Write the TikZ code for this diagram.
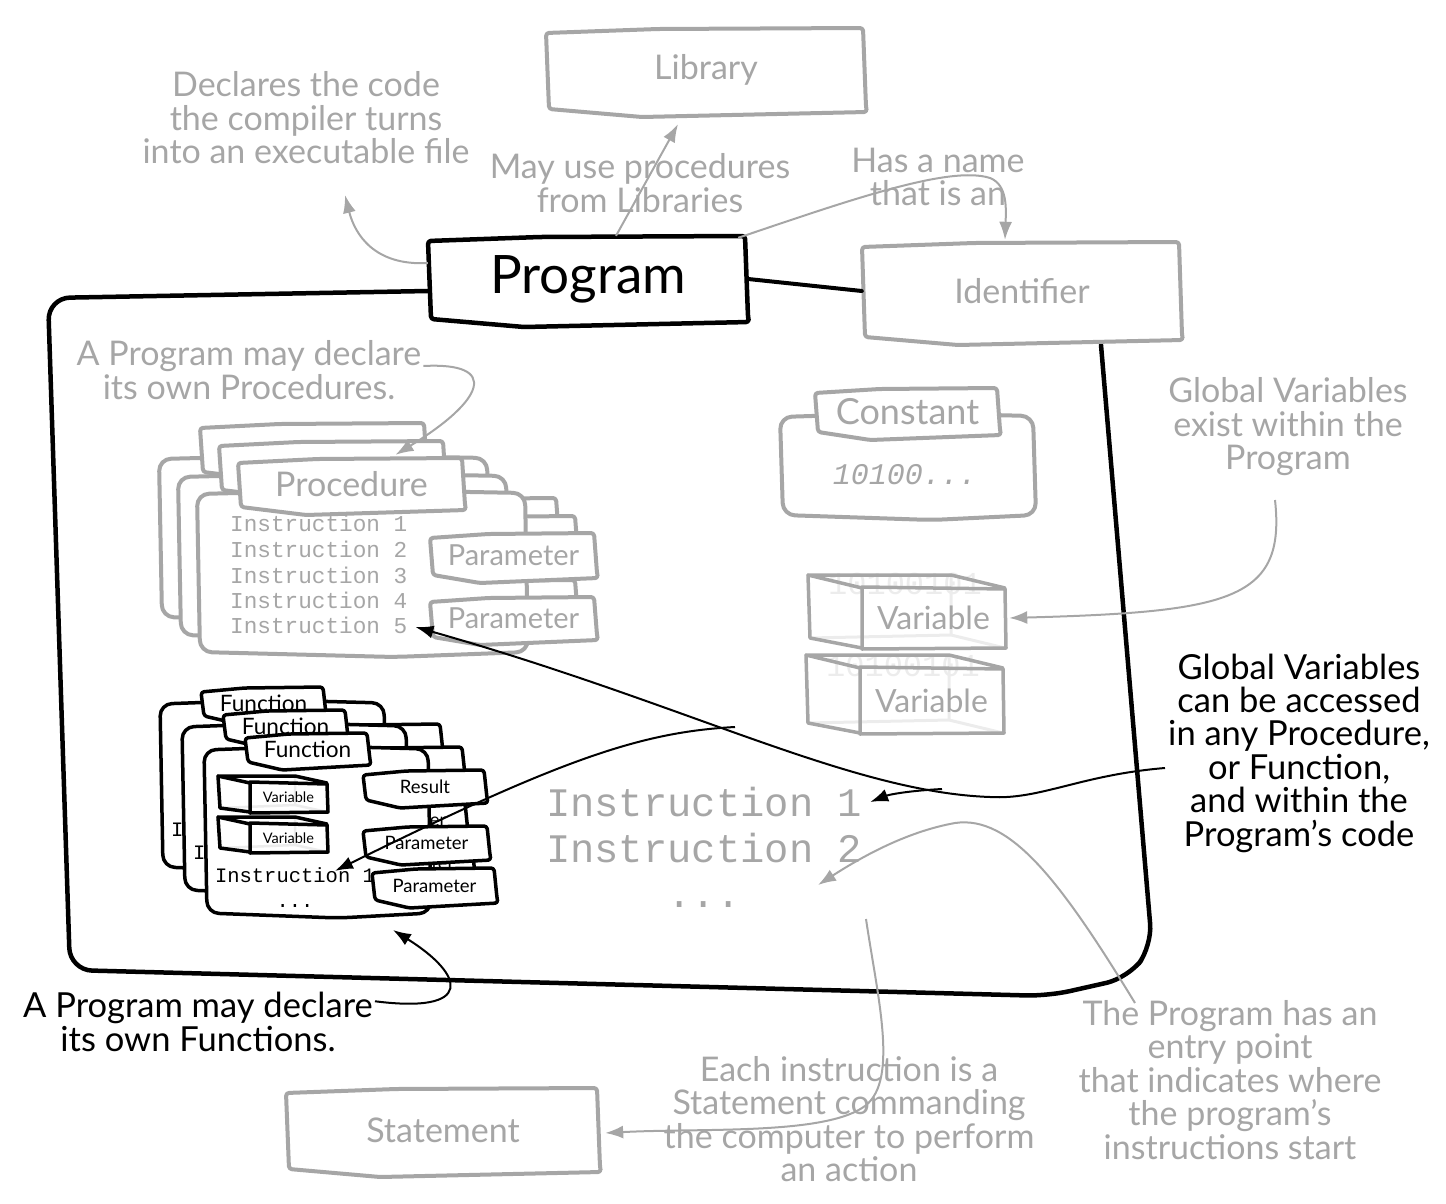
\documentclass[tikz,border=0pt]{standalone}
\usepackage{fontspec}
\setmainfont{Lato}
\setmonofont{Liberation Mono}
\usetikzlibrary{arrows.meta,calc}
\definecolor{sk}{HTML}{A6A6A6}
\definecolor{ghost}{HTML}{ECECEC}
\tikzset{
 gline/.style={draw=sk, line width=4pt, line join=round, line cap=round},
 bline/.style={draw=black, line width=4pt, line join=round, line cap=round},
 gbox/.style={gline, fill=white, rounded corners=3pt},
 bbox/.style={bline, fill=white, rounded corners=3pt},
 bbox3/.style={bline, line width=3.5pt, fill=white, rounded corners=3pt},
 gcard/.style={gline, fill=white},
 bcard/.style={bline, line width=3.5pt, fill=white},
 gvarline/.style={gline, line width=3.5pt},
 bvarline/.style={bline, line width=3.5pt},
 gvarghost/.style={draw=ghost, line width=3pt},
 bvarghost/.style={draw=ghost, line width=2.5pt},
 gvartext/.style={text=sk, font=\fontsize{32}{34}\selectfont},
 bvartext/.style={text=black, font=\fontsize{14.5}{16}\selectfont},
 glabel/.style={text=sk, font=\fontsize{34}{36}\selectfont},
 clabel/.style={text=sk, font=\fontsize{36}{38}\selectfont},
 plabel/.style={text=black, font=\fontsize{53}{56}\selectfont},
 gparam/.style={text=sk, font=\fontsize{29}{31}\selectfont},
 flabel/.style={text=black, font=\fontsize{22.6}{24}\selectfont},
 fsmall/.style={text=black, font=\fontsize{18.5}{20}\selectfont},
 gnote/.style={text=sk, align=center, inner sep=0pt, font=\fontsize{34}{33.5}\selectfont},
 bnote/.style={text=black, align=center, inner sep=0pt, font=\fontsize{34.5}{33.4}\selectfont},
 bigmono/.style={text=sk, inner sep=0pt, font=\fontsize{40.5}{46}\ttfamily},
 pmono/.style={text=sk, inner sep=0pt, font=\fontsize{22.7}{25}\ttfamily},
 fmono/.style={text=black, inner sep=0pt, align=center, font=\fontsize{20.5}{25}\ttfamily},
 cmono/.style={text=sk, inner sep=0pt, font=\fontsize{30}{32}\ttfamily\itshape},
 ghosttext/.style={text=ghost, inner sep=0pt, font=\fontsize{32}{34}\ttfamily},
 garrow/.style={draw=sk, line width=2pt, -{Latex[length=18pt,width=13pt]}},
 barrow/.style={draw=black, line width=2pt, -{Latex[length=18pt,width=13pt]}},
}
% hand-drawn box with a label node
\newcommand\skb[8]{%
  \draw[#1] ({#4},{#5+5}) -- ({#4+0.35*((#6)-(#4))},{#5+1}) -- ({#6-3},{#5}) -- ({#6},{#7-5}) -- ({#6+1},{#7}) -- ({#4+0.3*((#6)-(#4))},{#7+5}) -- ({#4+3},{#7-3}) -- cycle;
  \node[#2, inner sep=0pt, minimum width={(#6)-(#4)}, minimum height={(#7)-(#5)}] (#3) at ({((#4)+(#6))/2},{((#5)+(#7))/2}) {#8};}
% hand-drawn card body
\newcommand\skcard[5]{%
  \draw[#1, rounded corners=12pt] ({#2},{#3+4}) -- ({0.5*((#2)+(#4))},{#3}) -- ({#4},{#3+3}) -- ({#4+3},{#5-3}) -- ({#2+0.6*((#4)-(#2))},{#5+2}) -- ({#2+3},{#5-3}) -- cycle;}
% 3D variable box: prefix, name, front x1,y1,x2,y2, depth dx,dy, text
\newcommand\skvar[9]{%
  \draw[#1varghost] ({#5+#7},{#4+#8}) -- ({#5+#7},{#6+#8}) -- ({#3+#7+2},{#6+#8+3}) ({#5+#7},{#6+#8}) -- (#5,#6);
  \draw[#1varline] (#3,#4) -- ({#3+#7},{#4+#8}) -- ({#5+#7},{#4+#8}) -- (#5,#4);
  \draw[#1varline] ({#3+#7},{#4+#8}) -- ({#3+#7+2},{#6+#8+3}) -- (#3,#6);
  \draw[#1varline] (#3,{#4-1}) -- (#5,{#4+1}) -- ({#5+1},#6) -- (#3,{#6+1}) -- cycle;
  \node[#1vartext, inner sep=0pt, minimum width={(#5)-(#3)}, minimum height={(#6)-(#4)}] (#2) at ({((#3)+(#5))/2},{((#4)+(#6))/2}) {#9};}
% procedure card: suffix, tab label, parameter label
\newcommand\proccard[3]{%
  \skcard{gcard}{197}{490}{525}{655}
  \ifx#1C
    \foreach \i/\y in {1/523,2/549,3/575,4/600,5/625}
      \node[pmono, anchor=west] (pi\i) at (230,\y) {Instruction \i};
  \fi
  \skb{gbox}{glabel}{ptab#1}{238}{458}{465}{510}{#2}
  \skb{gbox}{gparam}{ppa#1}{430}{533}{597}{578}{#3}
  \skb{gbox}{gparam}{ppb#1}{430}{597}{597}{640}{#3}}
% function card
\newcommand\funccard[1]{%
  \skcard{bcard}{204}{746}{428}{916}
  \node[fmono] (fins#1) at (295,888) {Instruction 1\\...};
  \skb{bbox3}{flabel}{ftab#1}{245}{733}{370}{765}{Function}
  \skb{bbox3}{fsmall}{fres#1}{363}{770}{487}{803}{Result}
  \skb{bbox3}{fsmall}{fpa#1}{363}{826}{490}{860}{Parameter}
  \skb{bbox3}{fsmall}{fpb#1}{372}{868}{497}{903}{Parameter}
  \ifx#1C
  \skvar{b}{fva#1}{250}{783}{327}{812}{-32}{-7}{Variable}
  \skvar{b}{fvb#1}{250}{824}{327}{852}{-32}{-7}{Variable}
  \fi}
\begin{document}
\begin{tikzpicture}[x=1pt,y=-1pt]
\useasboundingbox (0,0) rectangle (1446,1204);
% program container
\draw[bline, line width=4.5pt, rounded corners=22pt] (428,291) -- (48,298) -- (70,970) -- (1048,996) -- (1128,978) -- (1152,946) -- (1101,345);
% main boxes
\skb{bbox, line width=4.5pt}{plabel}{prog}{428}{236}{748}{322}{Program}
\skb{gbox}{glabel}{lib}{546}{28}{866}{112}{Library}
\skb{gbox}{glabel}{ident}{862}{242}{1182}{340}{Identifier}
\skb{gbox}{glabel}{stmt}{286}{1088}{600}{1172}{Statement}
\draw[bline] (prog.east) -- (ident.west);
% procedures
\begin{scope}[shift={(-38,-35)}]\proccard{A}{}{}\end{scope}
\begin{scope}[shift={(-19,-17)}]\proccard{B}{}{}\end{scope}
\proccard{C}{Procedure}{Parameter}
% functions
\begin{scope}[shift={(-44,-46)}]\funccard{A}\end{scope}
\begin{scope}[shift={(-22,-23)}]\funccard{B}\end{scope}
\funccard{C}
% constant
\skcard{gcard}{780}{413}{1033}{518}
\skb{gbox}{clabel}{const}{815}{388}{1000}{435}{Constant}
\node[cmono] (cval) at (905,475) {10100...};
% global variables
\node[ghosttext] (gh1) at (905,584) {10100101};
\node[ghosttext] (gh2) at (903,666) {10100101};
\skvar{g}{gvarA}{862}{588}{1005}{648}{-54}{-13}{Variable}
\skvar{g}{gvarB}{860}{668}{1003}{733}{-54}{-13}{Variable}
% program instructions
\node[bigmono] (bi1) at (704,802) {Instruction 1};
\node[bigmono] (bi2) at (704,848) {Instruction 2};
\node[bigmono] (bi3) at (704,905) {...};
% notes
\node[gnote] (decl) at (306,118) {Declares the code\\the compiler turns\\into an executable file};
\node[gnote] (libnote) at (640,183) {May use procedures\\from Libraries};
\node[gnote] (namenote) at (938,177) {Has a name\\that is an};
\node[gnote] (procnote) at (249,370) {A Program may declare\\its own Procedures.};
\node[gnote] (gvexist) at (1288,427) {Global Variables\\exist within the\\Program};
\node[bnote] (gvacc) at (1299,753) {Global Variables\\can be accessed\\in any Procedure,\\or Function,\\and within the\\Program’s code};
\node[bnote] (funcnote) at (198,1022) {A Program may declare\\its own Functions.};
\node[gnote] (entry) at (1230,1080) {The Program has an\\entry point\\that indicates where\\the program’s\\instructions start};
\node[gnote] (eachnote) at (849,1119) {Each instruction is a\\Statement commanding\\the computer to perform\\an action};
% connectors
\coordinate (declend) at (345,195);
\draw[garrow] ([yshift=16pt]prog.west) .. controls (375,266) and (355,235) .. (declend);
\draw[garrow] ([xshift=28pt]prog.north) -- ($(lib.south)+(-28,12)$);
\draw[garrow] ([xshift=-10pt,yshift=-2pt]prog.north east) .. controls (850,200) and (950,165) .. (990,178) .. controls (1008,185) and (1006,210) .. ($(ident.north)+(-17,-2)$);
\draw[garrow] ($(procnote.east)+(2,-4)$) .. controls (500,362) and (485,400) .. ($(ptabC.north)+(44,-3)$);
\coordinate (gvs1) at (1275,500);
\draw[garrow] (gvs1) .. controls (1286,600) and (1230,612) .. ([xshift=4pt]gvarA.east);
\coordinate (gvs) at (1165,768);
\coordinate (gvm) at (990,797);
\draw[barrow] (gvs) .. controls (1080,775) and (1040,800) .. (gvm) .. controls (850,792) and (690,705) .. ([xshift=8pt,yshift=-2pt]pi5.east);
\coordinate (gvb) at (942,789);
\draw[barrow] (gvb) .. controls (905,791) and (888,795) .. ([xshift=8pt]bi1.east);
\coordinate (fs) at (735,727);
\draw[barrow] (fs) .. controls (640,732) and (560,760) .. ($(finsC.north)+(40,3)$);
\coordinate (ftip) at (393,930);
\draw[barrow] ($(funcnote.north east)+(2,9)$) .. controls (475,1014) and (465,975) .. (ftip);
\coordinate (es) at (1135,1003);
\coordinate (etip) at (818,885);
\draw[garrow] (es) .. controls (1060,880) and (1010,815) .. (955,823) .. controls (905,832) and (860,858) .. (etip);
\coordinate (ss) at (866,919);
\draw[garrow] (ss) .. controls (878,1000) and (900,1085) .. (862,1108) .. controls (820,1135) and (700,1128) .. ([xshift=5pt,yshift=-3pt]stmt.east);
\end{tikzpicture}
\end{document}
